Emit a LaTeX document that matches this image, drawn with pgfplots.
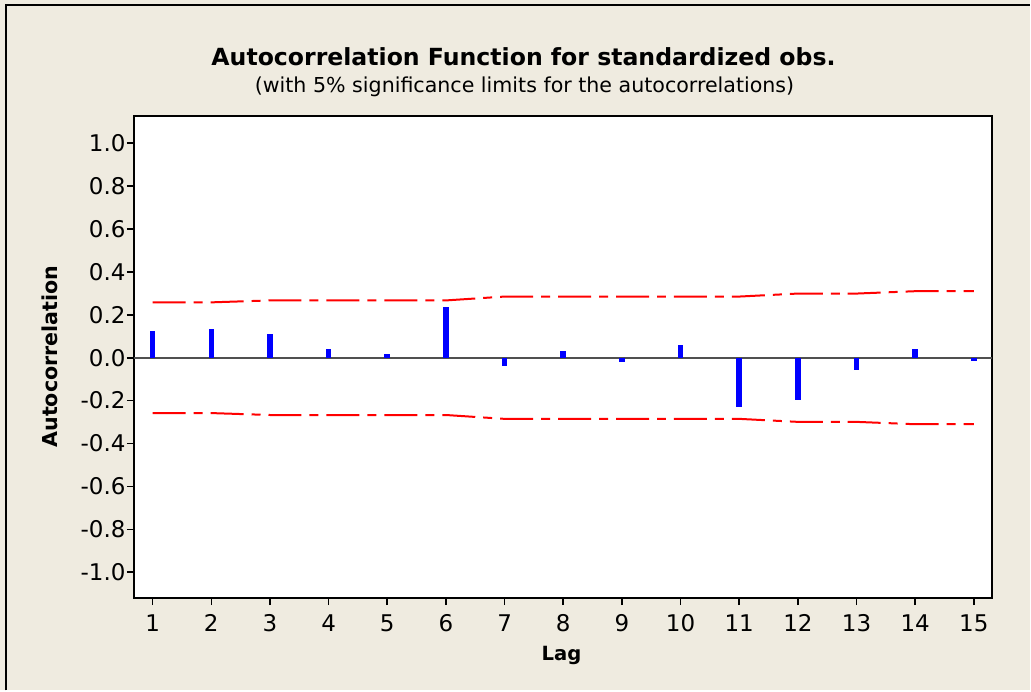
\documentclass[border=0pt]{standalone}
\usepackage{fontspec}
\setmainfont{DejaVu Sans}
\usepackage{pgfplots}
\usepackage{pgfplotstable}
\pgfplotsset{compat=1.18}

\definecolor{panel}{RGB}{239,235,224}
\definecolor{zeroline}{RGB}{80,80,80}

% lag, autocorrelation, 5% significance limit
\pgfplotstableread{
lag acf lim
1  0.126  0.258
2  0.135  0.258
3  0.110  0.267
4  0.042  0.267
5  0.017  0.267
6  0.235  0.267
7  -0.040 0.285
8  0.033  0.285
9  -0.022 0.285
10 0.059  0.285
11 -0.232 0.285
12 -0.197 0.299
13 -0.056 0.299
14 0.042  0.310
15 -0.014 0.310
}\acftable

\begin{document}
\begin{tikzpicture}
  % panel and frame
  \fill[panel] (0pt,0pt) rectangle (515.5pt,-345.5pt);
  \draw[line width=1pt] (3pt,-345.5pt) -- (3pt,-2.5pt) -- (515.5pt,-2.5pt);

  \begin{axis}[
    at={(67pt,-58pt)}, anchor=north west,
    width=429.5pt, height=241.3pt, scale only axis,
    xmin=0.68, xmax=15.31, ymin=-1.12, ymax=1.127,
    axis background/.style={fill=white},
    axis line style={line width=1pt, black},
    xtick={1,...,15},
    ytick={-1,-0.8,-0.6,-0.4,-0.2,0,0.2,0.4,0.6,0.8,1},
    yticklabels={-1.0,-0.8,-0.6,-0.4,-0.2,0.0,0.2,0.4,0.6,0.8,1.0},
    tick pos=left, tick align=outside,
    major tick length=3.5pt,
    tick style={black, line width=0.8pt},
    /pgf/number format/assume math mode=true,
    ticklabel style={font=\fontsize{11.5}{13}\selectfont},
    xticklabel style={inner sep=1pt, yshift=-3.5pt},
    yticklabel style={inner sep=0.5pt},
    clip=false,
  ]
    % zero reference line
    \draw[zeroline, line width=1pt] (axis cs:0.68,0) -- (axis cs:15.31,0);
    % significance limits
    \addplot[red, line width=1pt, dash pattern=on 16.5pt off 4pt on 4.5pt off 4pt]
      table[x=lag, y=lim] {\acftable};
    \addplot[red, line width=1pt, dash pattern=on 16.5pt off 4pt on 4.5pt off 4pt]
      table[x=lag, y expr=-\thisrow{lim}] {\acftable};
    % autocorrelations
    \addplot[ycomb, blue, line width=2.8pt, mark=none]
      table[x=lag, y=acf] {\acftable};
  \end{axis}

  \node[font=\bfseries\fontsize{11.8}{14}\selectfont] at (262pt,-28.5pt)
    {Autocorrelation Function for standardized obs.};
  \node[font=\fontsize{10.3}{12}\selectfont] at (262.5pt,-43.5pt)
    {(with 5\% significance limits for the autocorrelations)};
  \node[font=\bfseries\fontsize{9.8}{12}\selectfont] at (281pt,-328pt) {Lag};
  \node[font=\bfseries\fontsize{10.3}{12}\selectfont, rotate=90] at (25pt,-178.5pt)
    {Autocorrelation};
\end{tikzpicture}
\end{document}
